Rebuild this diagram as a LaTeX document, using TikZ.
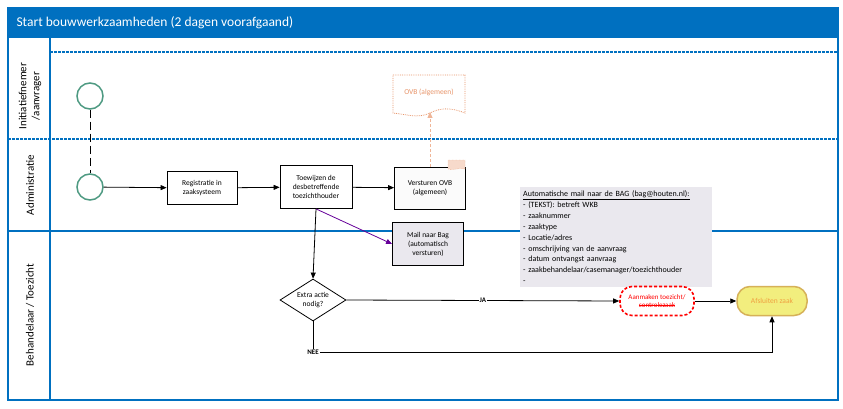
\documentclass[tikz,border=0pt]{standalone}
\usepackage{fontspec}
\setmainfont{Carlito}
\usetikzlibrary{shapes.geometric,arrows.meta}
\definecolor{bl}{HTML}{0070C0}
\definecolor{gr}{HTML}{4E9A82}
\definecolor{org}{HTML}{E8956A}
\definecolor{notef}{HTML}{EAE8EE}
\definecolor{yel}{HTML}{F2EE7E}
\definecolor{yeld}{HTML}{D6B158}
\definecolor{yelt}{HTML}{F0A040}
\newlength\stkw
\newcommand\mystk[1]{\settowidth\stkw{#1}\rlap{#1}\rule[0.55ex]{\stkw}{0.5pt}}
\begin{document}
\begin{tikzpicture}[x=1pt,y=-1pt,
 box/.style={draw,thick,fill=white,minimum width=71pt,minimum height=40pt,align=center,font=\fontsize{7.5}{9}\selectfont},
 arr/.style={-{Triangle[length=6pt,width=5pt]},thick},
 lane/.style={font=\fontsize{11}{13}\selectfont,rotate=90,align=center}]
\useasboundingbox (0,0) rectangle (843,409);
\fill[white] (0,0) rectangle (843,409);
% frame
\draw[bl,line width=1.5pt] (8,8) rectangle (838,400);
\fill[bl] (8,8) rectangle (838,38);
\node[white,anchor=west,font=\fontsize{13.5}{15}\selectfont] (title) at (13,23) {Start bouwwerkzaamheden (2 dagen voorafgaand)};
\draw[bl,line width=1.5pt] (50,38) -- (50,400);
\draw[bl,line width=2pt,dashed,dash pattern=on 3pt off 1pt] (50,52) -- (838,52);
\draw[bl,line width=2pt,dashed,dash pattern=on 3pt off 1pt] (8,139) -- (838,139);
\draw[bl,line width=1.5pt] (8,231) -- (838,231);
\node[lane] (l1) at (30,96) {Initiatiefnemer\\/aanvrager};
\node[lane] (l2) at (30,185) {Administratie};
\node[lane] (l3) at (30,315) {Behandelaar / Toezicht};
% circles
\node[circle,draw=gr,line width=1.5pt,minimum size=26pt,fill=white] (c1) at (90,96) {};
\node[circle,draw=gr,line width=1.5pt,minimum size=26pt,fill=white] (c2) at (90,187) {};
\draw[thick,dash pattern=on 8pt off 4pt] (c1) -- (c2);
\node[box,minimum width=70pt,minimum height=33pt] (reg) at (202,188) {Registratie in\\zaaksysteem};
\node[box,minimum width=72pt,minimum height=43pt] (toe) at (316,187) {Toewijzen de\\desbetreffende\\toezichthouder};
\node[box,minimum width=71pt,minimum height=42pt,fill=white!97!gray] (ovb) at (430,188) {Versturen OVB\\(algemeen)};
\draw[org,fill=org!35,densely dotted] (448,160) -- (465,160) -- (465,169) .. controls (460,167) and (453,171) .. (448,169) -- cycle;
\draw[arr] (c2) -- (reg);
\draw[arr] (reg) -- (toe);
\draw[arr] (toe) -- (ovb);
% document
\draw[org,densely dotted,thick] (393,75) -- (465,75) -- (465,113) .. controls (450,107) and (440,108) .. (430,113) .. controls (418,119) and (405,114) .. (393,113) -- cycle;
\node[org,font=\fontsize{7.5}{9}\selectfont] (doc) at (429,92) {OVB (algemeen)};
\coordinate (docb) at (430,112);
\draw[org!70,thick,densely dashed,-{Triangle[length=6pt,width=5pt]}] (ovb.north) -- (docb);
\node[box,minimum width=71pt,minimum height=43pt,fill=notef] (mail) at (428,244) {Mail naar Bag\\(automatisch\\versturen)};
\draw[arr,violet!80!blue] (toe.south) -- (mail.west);
% text box
\node[fill=notef,anchor=north west,minimum width=192pt,minimum height=100pt,align=left,inner sep=3pt,text width=186pt,font=\fontsize{8}{10.9}\selectfont] (note) at (520,187) {\underline{Automatische mail naar de BAG (bag@houten.nl):}\\- (TEKST): betreft WKB\\- zaaknummer\\- zaaktype\\- Locatie/adres\\- omschrijving van de aanvraag\\- datum ontvangst aanvraag\\- zaakbehandelaar/casemanager/toezichthouder\\-};
% lower lane
\node[diamond,draw,thick,fill=white,minimum width=66pt,minimum height=42pt,inner sep=0pt,aspect=1.6,align=center,font=\fontsize{7.5}{9}\selectfont] (dia) at (313,300) {Extra actie\\nodig?};
\draw[arr] (toe.south) -- (dia.north);
\node[draw=red,line width=1.6pt,dash pattern=on 3pt off 2pt,rounded corners=12pt,minimum width=74pt,minimum height=29pt,align=center,text=red,font=\fontsize{7}{8.5}\selectfont] (aan) at (657,301) {Aanmaken toezicht/\\\mystk{controlezaak}};
\node[draw=yeld,line width=1.5pt,fill=yel,rounded corners=13pt,minimum width=70pt,minimum height=29pt,text=yelt,font=\fontsize{7.5}{9}\selectfont] (afs) at (772,301) {Afsluiten zaak};
\draw[arr] (dia.east) -- node[fill=white,inner sep=1pt,font=\bfseries\fontsize{7}{8}\selectfont] (ja) {JA} (aan.west);
\draw[arr] (aan.east) -- (afs.west);
\coordinate (k1) at (313,352);
\draw[arr] (dia.south) -- (k1) -| (afs.south);
\node[fill=white,inner sep=1pt,font=\bfseries\fontsize{7}{8}\selectfont] (nee) at (313,352) {NEE};
\end{tikzpicture}
\end{document}
